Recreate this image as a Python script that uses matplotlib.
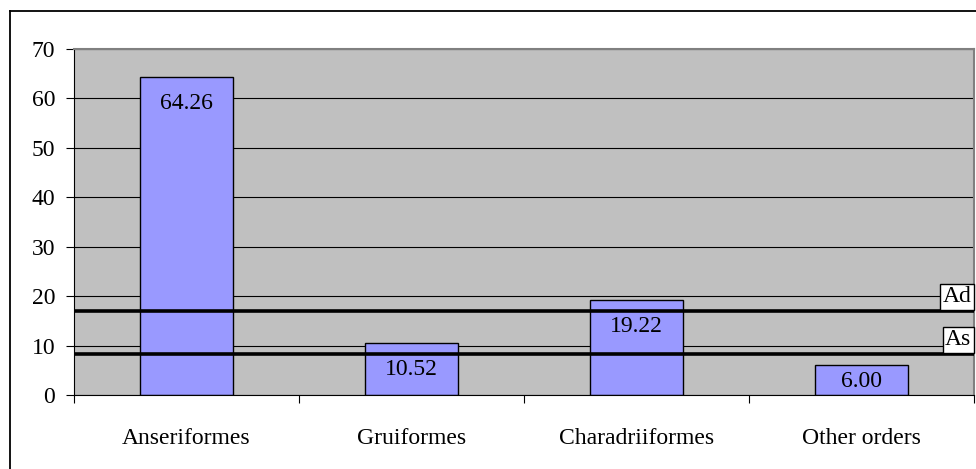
import matplotlib.pyplot as plt
from matplotlib.lines import Line2D

orders = ["Anseriformes", "Gruiformes", "Charadriiformes", "Other orders"]
percent = [64.26, 10.52, 19.22, 6.00]
ref_levels = [16.9, 8.2]
ref_names = ["Ad", "As"]

plt.rcParams['font.family'] = ['Liberation Serif', 'DejaVu Serif']
plt.rcParams['font.size'] = 17

fig = plt.figure(figsize=(9.76, 4.69), dpi=100)
W, H = 976, 469

# outer chart frame (only left and top show in the picture)
fig.add_artist(Line2D([10 / W, 10 / W], [0, 1 - 11 / H], transform=fig.transFigure,
                      color='black', lw=1.3))
fig.add_artist(Line2D([10 / W, 1], [1 - 11 / H, 1 - 11 / H], transform=fig.transFigure,
                      color='black', lw=1.3))

ax_h = 395 - 49
ax = fig.add_axes([74 / W, (H - 395) / H, (974 - 74) / W, ax_h / H])
ax.set_facecolor('#C0C0C0')

x = range(len(orders))
bars = ax.bar(x, percent, width=0.41, color='#9999FF', edgecolor='black', lw=1, zorder=2)

# value labels inside the top of each bar, kept inside the plot for short bars
for bar, v in zip(bars, percent):
    bar_pt = v / 70 * ax_h * 0.72
    off = min(19, bar_pt - 10)
    ax.annotate(f"{v:.2f}", (bar.get_x() + bar.get_width() / 2, bar.get_height()),
                xytext=(0, -off), textcoords='offset points',
                ha='center', va='center', zorder=4)

# reference lines with boxed labels
for lvl, name in zip(ref_levels, ref_names):
    ax.axhline(lvl, color='black', lw=2.6, zorder=3)
    ax.annotate(name, (1, lvl), xycoords=('axes fraction', 'data'),
                xytext=(-2, 3), textcoords='offset points', ha='right', va='bottom',
                bbox=dict(boxstyle='square,pad=0.1', fc='white', ec='black', lw=1),
                zorder=5)

ax.set_ylim(0, 70)
ax.set_xlim(-0.5, len(orders) - 0.5)
ax.set_yticks(range(0, 71, 10))
ax.yaxis.grid(True, color='black', lw=0.8)
ax.set_axisbelow(True)
ax.tick_params(axis='y', direction='out', length=6, width=0.8, pad=7.5)

ax.set_xticks([i - 0.5 for i in range(len(orders) + 1)])
ax.set_xticklabels([])
ax.set_xticks(list(x), minor=True)
ax.set_xticklabels(orders, minor=True)
ax.tick_params(axis='x', which='major', direction='out', length=6, width=0.8)
ax.tick_params(axis='x', which='minor', length=0, pad=24)

for s in ['top', 'right']:
    ax.spines[s].set_color('#808080')
    ax.spines[s].set_linewidth(1.5)
for s in ['left', 'bottom']:
    ax.spines[s].set_color('black')
    ax.spines[s].set_linewidth(0.8)

fig.savefig('out.png', dpi=100)
